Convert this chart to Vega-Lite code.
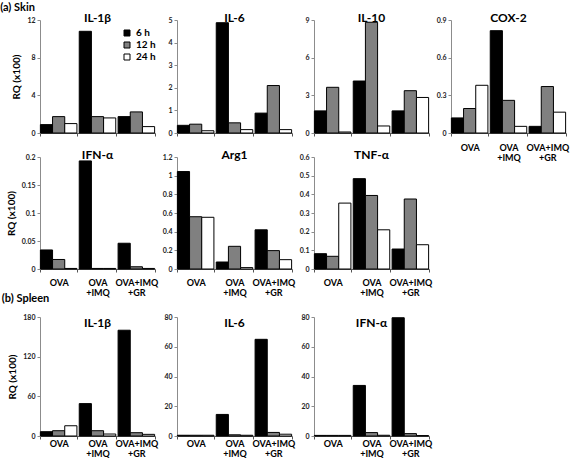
{
  "$schema": "https://vega.github.io/schema/vega-lite/v6.json",
  "padding": {"left": 0, "top": 2, "right": 2, "bottom": 0},
  "data": {"values": [
    {"t":"Skin","g":"IL-1β","grp":"OVA","time":"6 h","v":0.89},
    {"t":"Skin","g":"IL-1β","grp":"OVA","time":"12 h","v":1.74},
    {"t":"Skin","g":"IL-1β","grp":"OVA","time":"24 h","v":1.0},
    {"t":"Skin","g":"IL-1β","grp":"OVA+IMQ","time":"6 h","v":10.8},
    {"t":"Skin","g":"IL-1β","grp":"OVA+IMQ","time":"12 h","v":1.74},
    {"t":"Skin","g":"IL-1β","grp":"OVA+IMQ","time":"24 h","v":1.6},
    {"t":"Skin","g":"IL-1β","grp":"OVA+IMQ+GR","time":"6 h","v":1.74},
    {"t":"Skin","g":"IL-1β","grp":"OVA+IMQ+GR","time":"12 h","v":2.24},
    {"t":"Skin","g":"IL-1β","grp":"OVA+IMQ+GR","time":"24 h","v":0.68},
    {"t":"Skin","g":"IL-6","grp":"OVA","time":"6 h","v":0.34},
    {"t":"Skin","g":"IL-6","grp":"OVA","time":"12 h","v":0.39},
    {"t":"Skin","g":"IL-6","grp":"OVA","time":"24 h","v":0.1},
    {"t":"Skin","g":"IL-6","grp":"OVA+IMQ","time":"6 h","v":4.88},
    {"t":"Skin","g":"IL-6","grp":"OVA+IMQ","time":"12 h","v":0.45},
    {"t":"Skin","g":"IL-6","grp":"OVA+IMQ","time":"24 h","v":0.15},
    {"t":"Skin","g":"IL-6","grp":"OVA+IMQ+GR","time":"6 h","v":0.88},
    {"t":"Skin","g":"IL-6","grp":"OVA+IMQ+GR","time":"12 h","v":2.1},
    {"t":"Skin","g":"IL-6","grp":"OVA+IMQ+GR","time":"24 h","v":0.15},
    {"t":"Skin","g":"IL-10","grp":"OVA","time":"6 h","v":1.76},
    {"t":"Skin","g":"IL-10","grp":"OVA","time":"12 h","v":3.64},
    {"t":"Skin","g":"IL-10","grp":"OVA","time":"24 h","v":0.08},
    {"t":"Skin","g":"IL-10","grp":"OVA+IMQ","time":"6 h","v":4.14},
    {"t":"Skin","g":"IL-10","grp":"OVA+IMQ","time":"12 h","v":8.82},
    {"t":"Skin","g":"IL-10","grp":"OVA+IMQ","time":"24 h","v":0.56},
    {"t":"Skin","g":"IL-10","grp":"OVA+IMQ+GR","time":"6 h","v":1.76},
    {"t":"Skin","g":"IL-10","grp":"OVA+IMQ+GR","time":"12 h","v":3.37},
    {"t":"Skin","g":"IL-10","grp":"OVA+IMQ+GR","time":"24 h","v":2.83},
    {"t":"Skin","g":"COX-2","grp":"OVA","time":"6 h","v":0.12},
    {"t":"Skin","g":"COX-2","grp":"OVA","time":"12 h","v":0.195},
    {"t":"Skin","g":"COX-2","grp":"OVA","time":"24 h","v":0.38},
    {"t":"Skin","g":"COX-2","grp":"OVA+IMQ","time":"6 h","v":0.815},
    {"t":"Skin","g":"COX-2","grp":"OVA+IMQ","time":"12 h","v":0.26},
    {"t":"Skin","g":"COX-2","grp":"OVA+IMQ","time":"24 h","v":0.053},
    {"t":"Skin","g":"COX-2","grp":"OVA+IMQ+GR","time":"6 h","v":0.053},
    {"t":"Skin","g":"COX-2","grp":"OVA+IMQ+GR","time":"12 h","v":0.37},
    {"t":"Skin","g":"COX-2","grp":"OVA+IMQ+GR","time":"24 h","v":0.166},
    {"t":"Skin","g":"IFN-α","grp":"OVA","time":"6 h","v":0.034},
    {"t":"Skin","g":"IFN-α","grp":"OVA","time":"12 h","v":0.017},
    {"t":"Skin","g":"IFN-α","grp":"OVA","time":"24 h","v":0.001},
    {"t":"Skin","g":"IFN-α","grp":"OVA+IMQ","time":"6 h","v":0.193},
    {"t":"Skin","g":"IFN-α","grp":"OVA+IMQ","time":"12 h","v":0.001},
    {"t":"Skin","g":"IFN-α","grp":"OVA+IMQ","time":"24 h","v":0.001},
    {"t":"Skin","g":"IFN-α","grp":"OVA+IMQ+GR","time":"6 h","v":0.046},
    {"t":"Skin","g":"IFN-α","grp":"OVA+IMQ+GR","time":"12 h","v":0.004},
    {"t":"Skin","g":"IFN-α","grp":"OVA+IMQ+GR","time":"24 h","v":0.001},
    {"t":"Skin","g":"Arg1","grp":"OVA","time":"6 h","v":1.044},
    {"t":"Skin","g":"Arg1","grp":"OVA","time":"12 h","v":0.56},
    {"t":"Skin","g":"Arg1","grp":"OVA","time":"24 h","v":0.554},
    {"t":"Skin","g":"Arg1","grp":"OVA+IMQ","time":"6 h","v":0.075},
    {"t":"Skin","g":"Arg1","grp":"OVA+IMQ","time":"12 h","v":0.243},
    {"t":"Skin","g":"Arg1","grp":"OVA+IMQ","time":"24 h","v":0.015},
    {"t":"Skin","g":"Arg1","grp":"OVA+IMQ+GR","time":"6 h","v":0.42},
    {"t":"Skin","g":"Arg1","grp":"OVA+IMQ+GR","time":"12 h","v":0.197},
    {"t":"Skin","g":"Arg1","grp":"OVA+IMQ+GR","time":"24 h","v":0.1},
    {"t":"Skin","g":"TNF-α","grp":"OVA","time":"6 h","v":0.082},
    {"t":"Skin","g":"TNF-α","grp":"OVA","time":"12 h","v":0.068},
    {"t":"Skin","g":"TNF-α","grp":"OVA","time":"24 h","v":0.353},
    {"t":"Skin","g":"TNF-α","grp":"OVA+IMQ","time":"6 h","v":0.484},
    {"t":"Skin","g":"TNF-α","grp":"OVA+IMQ","time":"12 h","v":0.394},
    {"t":"Skin","g":"TNF-α","grp":"OVA+IMQ","time":"24 h","v":0.21},
    {"t":"Skin","g":"TNF-α","grp":"OVA+IMQ+GR","time":"6 h","v":0.107},
    {"t":"Skin","g":"TNF-α","grp":"OVA+IMQ+GR","time":"12 h","v":0.375},
    {"t":"Skin","g":"TNF-α","grp":"OVA+IMQ+GR","time":"24 h","v":0.13},
    {"t":"Spleen","g":"IL-1β","grp":"OVA","time":"6 h","v":6.5},
    {"t":"Spleen","g":"IL-1β","grp":"OVA","time":"12 h","v":8},
    {"t":"Spleen","g":"IL-1β","grp":"OVA","time":"24 h","v":15.5},
    {"t":"Spleen","g":"IL-1β","grp":"OVA+IMQ","time":"6 h","v":49},
    {"t":"Spleen","g":"IL-1β","grp":"OVA+IMQ","time":"12 h","v":8},
    {"t":"Spleen","g":"IL-1β","grp":"OVA+IMQ","time":"24 h","v":3},
    {"t":"Spleen","g":"IL-1β","grp":"OVA+IMQ+GR","time":"6 h","v":160},
    {"t":"Spleen","g":"IL-1β","grp":"OVA+IMQ+GR","time":"12 h","v":5},
    {"t":"Spleen","g":"IL-1β","grp":"OVA+IMQ+GR","time":"24 h","v":2.5},
    {"t":"Spleen","g":"IL-6","grp":"OVA","time":"6 h","v":0.5},
    {"t":"Spleen","g":"IL-6","grp":"OVA","time":"12 h","v":0.5},
    {"t":"Spleen","g":"IL-6","grp":"OVA","time":"24 h","v":0.5},
    {"t":"Spleen","g":"IL-6","grp":"OVA+IMQ","time":"6 h","v":14.5},
    {"t":"Spleen","g":"IL-6","grp":"OVA+IMQ","time":"12 h","v":0.8},
    {"t":"Spleen","g":"IL-6","grp":"OVA+IMQ","time":"24 h","v":0.5},
    {"t":"Spleen","g":"IL-6","grp":"OVA+IMQ+GR","time":"6 h","v":65},
    {"t":"Spleen","g":"IL-6","grp":"OVA+IMQ+GR","time":"12 h","v":2.4},
    {"t":"Spleen","g":"IL-6","grp":"OVA+IMQ+GR","time":"24 h","v":1.2},
    {"t":"Spleen","g":"IFN-α","grp":"OVA","time":"6 h","v":0.4},
    {"t":"Spleen","g":"IFN-α","grp":"OVA","time":"12 h","v":0.4},
    {"t":"Spleen","g":"IFN-α","grp":"OVA","time":"24 h","v":0.4},
    {"t":"Spleen","g":"IFN-α","grp":"OVA+IMQ","time":"6 h","v":34},
    {"t":"Spleen","g":"IFN-α","grp":"OVA+IMQ","time":"12 h","v":2.3},
    {"t":"Spleen","g":"IFN-α","grp":"OVA+IMQ","time":"24 h","v":0.5},
    {"t":"Spleen","g":"IFN-α","grp":"OVA+IMQ+GR","time":"6 h","v":79.5},
    {"t":"Spleen","g":"IFN-α","grp":"OVA+IMQ+GR","time":"12 h","v":1.6},
    {"t":"Spleen","g":"IFN-α","grp":"OVA+IMQ+GR","time":"24 h","v":0.3}
  ]},
  "config": {
    "view": {"stroke": null},
    "font": "Lato",
    "title": {"fontSize": 12, "fontWeight": "bold", "offset": -9, "color": "#000"},
    "axis": {"grid": false, "domainColor": "#8c8c8c", "tickColor": "#8c8c8c", "tickSize": 3, "labelFontSize": 7, "labelFontWeight": "bold", "labelColor": "#222", "labelPadding": 2, "titleFontSize": 10, "titleFontWeight": "bold", "titleColor": "#000", "titlePadding": 5},
    "bar": {"stroke": "#000", "strokeWidth": 1}
  },
  "resolve": {"scale": {"fill": "independent"}, "legend": {"fill": "independent"}},
  "spacing": -4,
  "vconcat": [
    {
      "title": {"text": "(a) Skin", "anchor": "start", "frame": "bounds", "dx": -6, "offset": -1, "fontSize": 11},
      "columns": 4,
      "bounds": "flush",
      "spacing": {"row": 24, "column": 22},
      "resolve": {"scale": {"fill": "independent"}, "legend": {"fill": "independent"}},
      "concat": [
        {"width": 115, "height": 113, "title": "IL-1β", "transform": [{"filter": "datum.t=='Skin' && datum.g=='IL-1β'"}], "mark": "bar",
         "encoding": {
          "x": {"field": "grp", "type": "nominal", "sort": ["OVA","OVA+IMQ","OVA+IMQ+GR"], "scale": {"paddingInner": 0.06, "paddingOuter": 0.01}, "axis": {"title": null, "labels": false, "tickBand": "extent", "domainColor": "#555", "tickColor": "#555"}},
          "xOffset": {"field": "time", "type": "nominal", "sort": ["6 h","12 h","24 h"], "scale": {"paddingInner": 0, "paddingOuter": 0}},
          "y": {"field": "v", "type": "quantitative", "scale": {"domain": [0, 12], "nice": false}, "axis": {"values": [0,4,8,12], "labelExpr": "'' + datum.value", "title": "RQ (x100)"}},
          "fill": {"field": "time", "type": "nominal", "sort": ["6 h","12 h","24 h"], "scale": {"domain": ["6 h","12 h","24 h"], "range": ["#000000","#808080","#ffffff"]},
                   "legend": {"orient": "none", "legendX": 82, "legendY": 8, "title": null, "padding": 0, "symbolType": "square", "symbolSize": 36, "symbolStrokeColor": "#000", "symbolStrokeWidth": 1, "labelFontSize": 10, "labelFontWeight": "bold", "labelColor": "#000", "rowPadding": 2, "labelOffset": 4}}
         }},
        {"width": 115, "height": 113, "title": "IL-6", "transform": [{"filter": "datum.t=='Skin' && datum.g=='IL-6'"}], "mark": "bar",
         "encoding": {
          "x": {"field": "grp", "type": "nominal", "sort": ["OVA","OVA+IMQ","OVA+IMQ+GR"], "scale": {"paddingInner": 0.06, "paddingOuter": 0.01}, "axis": {"title": null, "labels": false, "tickBand": "extent", "domainColor": "#555", "tickColor": "#555"}},
          "xOffset": {"field": "time", "type": "nominal", "sort": ["6 h","12 h","24 h"], "scale": {"paddingInner": 0, "paddingOuter": 0}},
          "y": {"field": "v", "type": "quantitative", "scale": {"domain": [0, 5], "nice": false}, "axis": {"values": [0,1,2,3,4,5], "labelExpr": "'' + datum.value", "title": null}},
          "fill": {"field": "time", "type": "nominal", "sort": ["6 h","12 h","24 h"], "scale": {"domain": ["6 h","12 h","24 h"], "range": ["#000000","#808080","#ffffff"]}, "legend": null}
         }},
        {"width": 115, "height": 113, "title": "IL-10", "transform": [{"filter": "datum.t=='Skin' && datum.g=='IL-10'"}], "mark": "bar",
         "encoding": {
          "x": {"field": "grp", "type": "nominal", "sort": ["OVA","OVA+IMQ","OVA+IMQ+GR"], "scale": {"paddingInner": 0.06, "paddingOuter": 0.01}, "axis": {"title": null, "labels": false, "tickBand": "extent", "domainColor": "#555", "tickColor": "#555"}},
          "xOffset": {"field": "time", "type": "nominal", "sort": ["6 h","12 h","24 h"], "scale": {"paddingInner": 0, "paddingOuter": 0}},
          "y": {"field": "v", "type": "quantitative", "scale": {"domain": [0, 9], "nice": false}, "axis": {"values": [0,3,6,9], "labelExpr": "'' + datum.value", "title": null}},
          "fill": {"field": "time", "type": "nominal", "sort": ["6 h","12 h","24 h"], "scale": {"domain": ["6 h","12 h","24 h"], "range": ["#000000","#808080","#ffffff"]}, "legend": null}
         }},
        {"width": 115, "height": 113, "title": "COX-2", "transform": [{"filter": "datum.t=='Skin' && datum.g=='COX-2'"}], "mark": "bar",
         "encoding": {
          "x": {"field": "grp", "type": "nominal", "sort": ["OVA","OVA+IMQ","OVA+IMQ+GR"], "scale": {"paddingInner": 0.06, "paddingOuter": 0.01}, "axis": {"title": null, "tickBand": "extent", "domainColor": "#555", "tickColor": "#555", "labelAngle": 0, "labelBaseline": "middle", "labelPadding": 11, "labelFontSize": 9, "labelLineHeight": 10, "labelColor": "#000", "labelExpr": "datum.value == 'OVA' ? 'OVA' : datum.value == 'OVA+IMQ' ? ['OVA', '+IMQ'] : datum.value == 'OVA+IMQ+GR' ? ['OVA+IMQ', '+GR'] : ''"}},
          "xOffset": {"field": "time", "type": "nominal", "sort": ["6 h","12 h","24 h"], "scale": {"paddingInner": 0, "paddingOuter": 0}},
          "y": {"field": "v", "type": "quantitative", "scale": {"domain": [0, 0.9], "nice": false}, "axis": {"values": [0,0.3,0.6,0.9], "labelExpr": "'' + datum.value", "title": null}},
          "fill": {"field": "time", "type": "nominal", "sort": ["6 h","12 h","24 h"], "scale": {"domain": ["6 h","12 h","24 h"], "range": ["#000000","#808080","#ffffff"]}, "legend": null}
         }},
        {"width": 115, "height": 112, "title": "IFN-α", "transform": [{"filter": "datum.t=='Skin' && datum.g=='IFN-α'"}], "mark": "bar",
         "encoding": {
          "x": {"field": "grp", "type": "nominal", "sort": ["OVA","OVA+IMQ","OVA+IMQ+GR"], "scale": {"paddingInner": 0.06, "paddingOuter": 0.01}, "axis": {"title": null, "tickBand": "extent", "domainColor": "#555", "tickColor": "#555", "labelAngle": 0, "labelBaseline": "middle", "labelPadding": 10, "labelFontSize": 9, "labelLineHeight": 10, "labelColor": "#000", "labelExpr": "datum.value == 'OVA' ? 'OVA' : datum.value == 'OVA+IMQ' ? ['OVA', '+IMQ'] : datum.value == 'OVA+IMQ+GR' ? ['OVA+IMQ', '+GR'] : ''"}},
          "xOffset": {"field": "time", "type": "nominal", "sort": ["6 h","12 h","24 h"], "scale": {"paddingInner": 0, "paddingOuter": 0}},
          "y": {"field": "v", "type": "quantitative", "scale": {"domain": [0, 0.2], "nice": false}, "axis": {"values": [0,0.05,0.1,0.15,0.2], "labelExpr": "'' + datum.value", "title": "RQ (x100)"}},
          "fill": {"field": "time", "type": "nominal", "sort": ["6 h","12 h","24 h"], "scale": {"domain": ["6 h","12 h","24 h"], "range": ["#000000","#808080","#ffffff"]}, "legend": null}
         }},
        {"width": 115, "height": 112, "title": "Arg1", "transform": [{"filter": "datum.t=='Skin' && datum.g=='Arg1'"}], "mark": "bar",
         "encoding": {
          "x": {"field": "grp", "type": "nominal", "sort": ["OVA","OVA+IMQ","OVA+IMQ+GR"], "scale": {"paddingInner": 0.06, "paddingOuter": 0.01}, "axis": {"title": null, "tickBand": "extent", "domainColor": "#555", "tickColor": "#555", "labelAngle": 0, "labelBaseline": "middle", "labelPadding": 10, "labelFontSize": 9, "labelLineHeight": 10, "labelColor": "#000", "labelExpr": "datum.value == 'OVA' ? 'OVA' : datum.value == 'OVA+IMQ' ? ['OVA', '+IMQ'] : datum.value == 'OVA+IMQ+GR' ? ['OVA+IMQ', '+GR'] : ''"}},
          "xOffset": {"field": "time", "type": "nominal", "sort": ["6 h","12 h","24 h"], "scale": {"paddingInner": 0, "paddingOuter": 0}},
          "y": {"field": "v", "type": "quantitative", "scale": {"domain": [0, 1.2], "nice": false}, "axis": {"values": [0,0.2,0.4,0.6,0.8,1,1.2], "labelExpr": "'' + datum.value", "title": null}},
          "fill": {"field": "time", "type": "nominal", "sort": ["6 h","12 h","24 h"], "scale": {"domain": ["6 h","12 h","24 h"], "range": ["#000000","#808080","#ffffff"]}, "legend": null}
         }},
        {"width": 115, "height": 112, "title": "TNF-α", "transform": [{"filter": "datum.t=='Skin' && datum.g=='TNF-α'"}], "mark": "bar",
         "encoding": {
          "x": {"field": "grp", "type": "nominal", "sort": ["OVA","OVA+IMQ","OVA+IMQ+GR"], "scale": {"paddingInner": 0.06, "paddingOuter": 0.01}, "axis": {"title": null, "tickBand": "extent", "domainColor": "#555", "tickColor": "#555", "labelAngle": 0, "labelBaseline": "middle", "labelPadding": 10, "labelFontSize": 9, "labelLineHeight": 10, "labelColor": "#000", "labelExpr": "datum.value == 'OVA' ? 'OVA' : datum.value == 'OVA+IMQ' ? ['OVA', '+IMQ'] : datum.value == 'OVA+IMQ+GR' ? ['OVA+IMQ', '+GR'] : ''"}},
          "xOffset": {"field": "time", "type": "nominal", "sort": ["6 h","12 h","24 h"], "scale": {"paddingInner": 0, "paddingOuter": 0}},
          "y": {"field": "v", "type": "quantitative", "scale": {"domain": [0, 0.6], "nice": false}, "axis": {"values": [0,0.1,0.2,0.3,0.4,0.5,0.6], "labelExpr": "'' + datum.value", "title": null}},
          "fill": {"field": "time", "type": "nominal", "sort": ["6 h","12 h","24 h"], "scale": {"domain": ["6 h","12 h","24 h"], "range": ["#000000","#808080","#ffffff"]}, "legend": null}
         }}
      ]
    },
    {
      "title": {"text": "(b) Spleen", "anchor": "start", "frame": "bounds", "dx": -6, "offset": 9, "fontSize": 11},
      "bounds": "flush",
      "spacing": 22,
      "resolve": {"scale": {"fill": "independent"}, "legend": {"fill": "independent"}},
      "hconcat": [
        {"width": 115, "height": 119, "title": {"text": "IL-1β", "offset": -17}, "transform": [{"filter": "datum.t=='Spleen' && datum.g=='IL-1β'"}], "mark": "bar",
         "encoding": {
          "x": {"field": "grp", "type": "nominal", "sort": ["OVA","OVA+IMQ","OVA+IMQ+GR"], "scale": {"paddingInner": 0.06, "paddingOuter": 0.01}, "axis": {"title": null, "tickBand": "extent", "domainColor": "#555", "tickColor": "#555", "labelAngle": 0, "labelBaseline": "middle", "labelPadding": 4, "labelFontSize": 9, "labelLineHeight": 10, "labelColor": "#000", "labelExpr": "datum.value == 'OVA' ? 'OVA' : datum.value == 'OVA+IMQ' ? ['OVA', '+IMQ'] : datum.value == 'OVA+IMQ+GR' ? ['OVA+IMQ', '+GR'] : ''"}},
          "xOffset": {"field": "time", "type": "nominal", "sort": ["6 h","12 h","24 h"], "scale": {"paddingInner": 0, "paddingOuter": 0}},
          "y": {"field": "v", "type": "quantitative", "scale": {"domain": [0, 180], "nice": false}, "axis": {"values": [0,60,120,180], "labelExpr": "'' + datum.value", "title": "RQ (x100)"}},
          "fill": {"field": "time", "type": "nominal", "sort": ["6 h","12 h","24 h"], "scale": {"domain": ["6 h","12 h","24 h"], "range": ["#000000","#808080","#ffffff"]}, "legend": null}
         }},
        {"width": 115, "height": 119, "title": {"text": "IL-6", "offset": -17}, "transform": [{"filter": "datum.t=='Spleen' && datum.g=='IL-6'"}], "mark": "bar",
         "encoding": {
          "x": {"field": "grp", "type": "nominal", "sort": ["OVA","OVA+IMQ","OVA+IMQ+GR"], "scale": {"paddingInner": 0.06, "paddingOuter": 0.01}, "axis": {"title": null, "tickBand": "extent", "domainColor": "#555", "tickColor": "#555", "labelAngle": 0, "labelBaseline": "middle", "labelPadding": 4, "labelFontSize": 9, "labelLineHeight": 10, "labelColor": "#000", "labelExpr": "datum.value == 'OVA' ? 'OVA' : datum.value == 'OVA+IMQ' ? ['OVA', '+IMQ'] : datum.value == 'OVA+IMQ+GR' ? ['OVA+IMQ', '+GR'] : ''"}},
          "xOffset": {"field": "time", "type": "nominal", "sort": ["6 h","12 h","24 h"], "scale": {"paddingInner": 0, "paddingOuter": 0}},
          "y": {"field": "v", "type": "quantitative", "scale": {"domain": [0, 80], "nice": false}, "axis": {"values": [0,20,40,60,80], "labelExpr": "'' + datum.value", "title": null}},
          "fill": {"field": "time", "type": "nominal", "sort": ["6 h","12 h","24 h"], "scale": {"domain": ["6 h","12 h","24 h"], "range": ["#000000","#808080","#ffffff"]}, "legend": null}
         }},
        {"width": 115, "height": 119, "title": {"text": "IFN-α", "offset": -17}, "transform": [{"filter": "datum.t=='Spleen' && datum.g=='IFN-α'"}], "mark": "bar",
         "encoding": {
          "x": {"field": "grp", "type": "nominal", "sort": ["OVA","OVA+IMQ","OVA+IMQ+GR"], "scale": {"paddingInner": 0.06, "paddingOuter": 0.01}, "axis": {"title": null, "tickBand": "extent", "domainColor": "#555", "tickColor": "#555", "labelAngle": 0, "labelBaseline": "middle", "labelPadding": 4, "labelFontSize": 9, "labelLineHeight": 10, "labelColor": "#000", "labelExpr": "datum.value == 'OVA' ? 'OVA' : datum.value == 'OVA+IMQ' ? ['OVA', '+IMQ'] : datum.value == 'OVA+IMQ+GR' ? ['OVA+IMQ', '+GR'] : ''"}},
          "xOffset": {"field": "time", "type": "nominal", "sort": ["6 h","12 h","24 h"], "scale": {"paddingInner": 0, "paddingOuter": 0}},
          "y": {"field": "v", "type": "quantitative", "scale": {"domain": [0, 80], "nice": false}, "axis": {"values": [0,20,40,60,80], "labelExpr": "'' + datum.value", "title": null}},
          "fill": {"field": "time", "type": "nominal", "sort": ["6 h","12 h","24 h"], "scale": {"domain": ["6 h","12 h","24 h"], "range": ["#000000","#808080","#ffffff"]}, "legend": null}
         }}
      ]
    }
  ]
}
